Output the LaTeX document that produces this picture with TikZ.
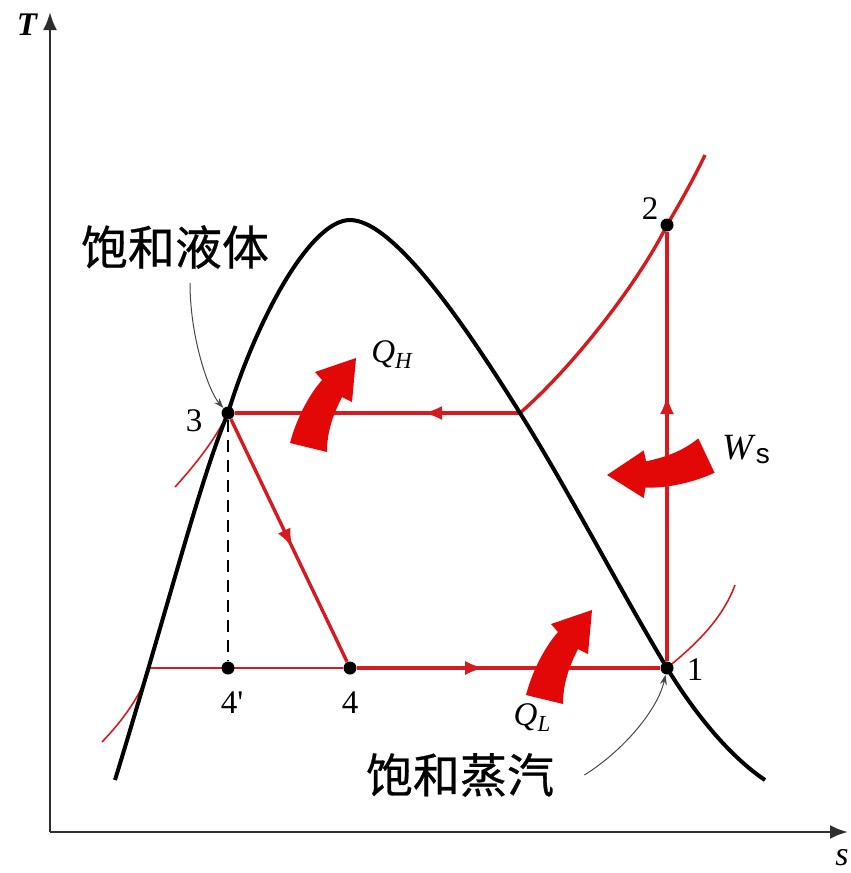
\documentclass[tikz,border=0pt]{standalone}
\usepackage{fontspec}
\setmainfont{Liberation Serif}
\newfontfamily\cjkfont{Noto Sans CJK SC}[FakeBold=0.6]
\newfontfamily\arialfont{Liberation Sans}
\usetikzlibrary{arrows.meta,decorations.markings,backgrounds}

\definecolor{cycred}{RGB}{212,28,32}
\definecolor{heatred}{RGB}{226,8,8}
\definecolor{leadgray}{RGB}{70,70,70}
\definecolor{axisgray}{RGB}{45,45,45}

\newcommand{\qlab}[2]{\textit{#1}{\fontsize{11.5}{11.5}\selectfont\raisebox{-3pt}{\textit{#2}}}}

\tikzset{
  dome/.style={line width=2pt, black},
  cycline/.style={line width=1.7pt, cycred},
  isobar/.style={line width=0.8pt, cycred},
  axisline/.style={line width=1.4pt, axisgray, -{Latex[length=9pt,width=7pt]}},
  statept/.style={circle, fill=black, inner sep=0pt, minimum size=6.5pt},
  numlab/.style={font=\fontsize{16.5}{16.5}\selectfont, inner sep=1pt},
  cjklab/.style={font=\cjkfont\fontsize{23.5}{24}\selectfont, inner sep=0pt},
  leader/.style={leadgray, line width=0.5pt, -{Stealth[length=5pt,width=3.5pt]}},
  flowarrow/.style={postaction={decorate}, decoration={markings,
      mark=at position #1 with {\arrow{Latex[length=9.5pt,width=7pt]}}}},
  heatarrow/.pic={
    \fill[heatred] (0,0) -- (-4,44) -- (-14,39)
      .. controls (-22,55) and (-29,72) .. (-29,94) -- (-66,85)
      .. controls (-60,62) and (-48,38) .. (-34,22) -- (-41,14) -- cycle;
  }
}

\begin{document}
\begin{tikzpicture}[x=0.5pt,y=-0.5pt]
\useasboundingbox (0,0) rectangle (851,873);

% state points
\node[statept] (p1) at (667,668) {};
\node[statept] (p2) at (667,225) {};
\node[statept] (p3) at (228,413) {};
\node[statept] (p4) at (350,668) {};
\node[statept] (p4p) at (228,668) {};
\coordinate (sat) at (520,413);
\coordinate (liqend) at (150,668);

% axes
\coordinate (O) at (50,832);
\coordinate (Ttip) at (50,12);
\coordinate (stip) at (848,832);
\draw[axisline] (O) -- (Ttip);
\draw[axisline] (O) -- (stip);
\node[font=\fontsize{16.5}{16.5}\selectfont\itshape\bfseries] (Tlab) at (27,25) {T};
\node[font=\fontsize{17}{17}\selectfont\itshape] (slab) at (842,858) {s};

\begin{pgfonlayer}{background}
% isobars
\draw[isobar] (175,487) .. controls (195,465) and (215,440) .. (p3.center);
\draw[isobar] (102,742) .. controls (123,720) and (140,697) .. (liqend) -- (p4);
\draw[isobar] (p1.center) .. controls (695,645) and (722,620) .. (735,585);
\draw[cycline] (sat) .. controls (575,365) and (640,280) .. (p2.center)
  .. controls (680,203) and (693,180) .. (705,155);
% cycle
\draw[cycline, flowarrow=0.34] (sat) -- (p3);
\draw[cycline, flowarrow=0.53] (p3) -- (p4);
\draw[cycline, flowarrow=0.42] (p4) -- (p1);
\draw[cycline, flowarrow=0.62] (p1) -- (p2);
\draw[line width=1.2pt, dash pattern=on 6pt off 4pt] (p3) -- (p4p);
% saturation dome
\draw[dome] (115,780) .. controls (170,600) and (200,480) .. (p3.center)
  .. controls (256,321) and (310,220) .. (350,220)
  .. controls (395,220) and (470,333) .. (sat)
  .. controls (570,493) and (620,590) .. (p1.center)
  .. controls (700,722) and (735,760) .. (765,780);
\end{pgfonlayer}

% heat and work
\pic at (356,358) {heatarrow};
\pic at (592,610) {heatarrow};
\pic[rotate=129] at (607,475) {heatarrow};

% labels
\node[numlab] (n1) at (695,670) {1};
\node[numlab] (n2) at (650,209) {2};
\node[numlab] (n3) at (194,421) {3};
\node[numlab] (n4) at (350,703) {4};
\node[numlab] (n4p) at (232,703) {4\textquotesingle};
\node[numlab] (qh) at (392,355) {\qlab{Q}{H}};
\node[numlab] (ql) at (532,718) {\qlab{Q}{L}};
\node[numlab] (ws) at (746,450) {\fontsize{18.5}{18.5}\selectfont\textit{W}{\arialfont\fontsize{14}{14}\selectfont\raisebox{-2pt}{s}}};
\node[cjklab] (liq) at (175,247) {饱和液体};
\node[cjklab] (vap) at (460,775) {饱和蒸汽};

\draw[leader] ([xshift=7.5pt,yshift=-7pt]liq.south) .. controls +(0,55) and +(-19,-21) .. (p3);
\draw[leader] ([xshift=15pt]vap.east) .. controls +(40,-25) and +(-9,41) .. (p1);
\end{tikzpicture}
\end{document}
